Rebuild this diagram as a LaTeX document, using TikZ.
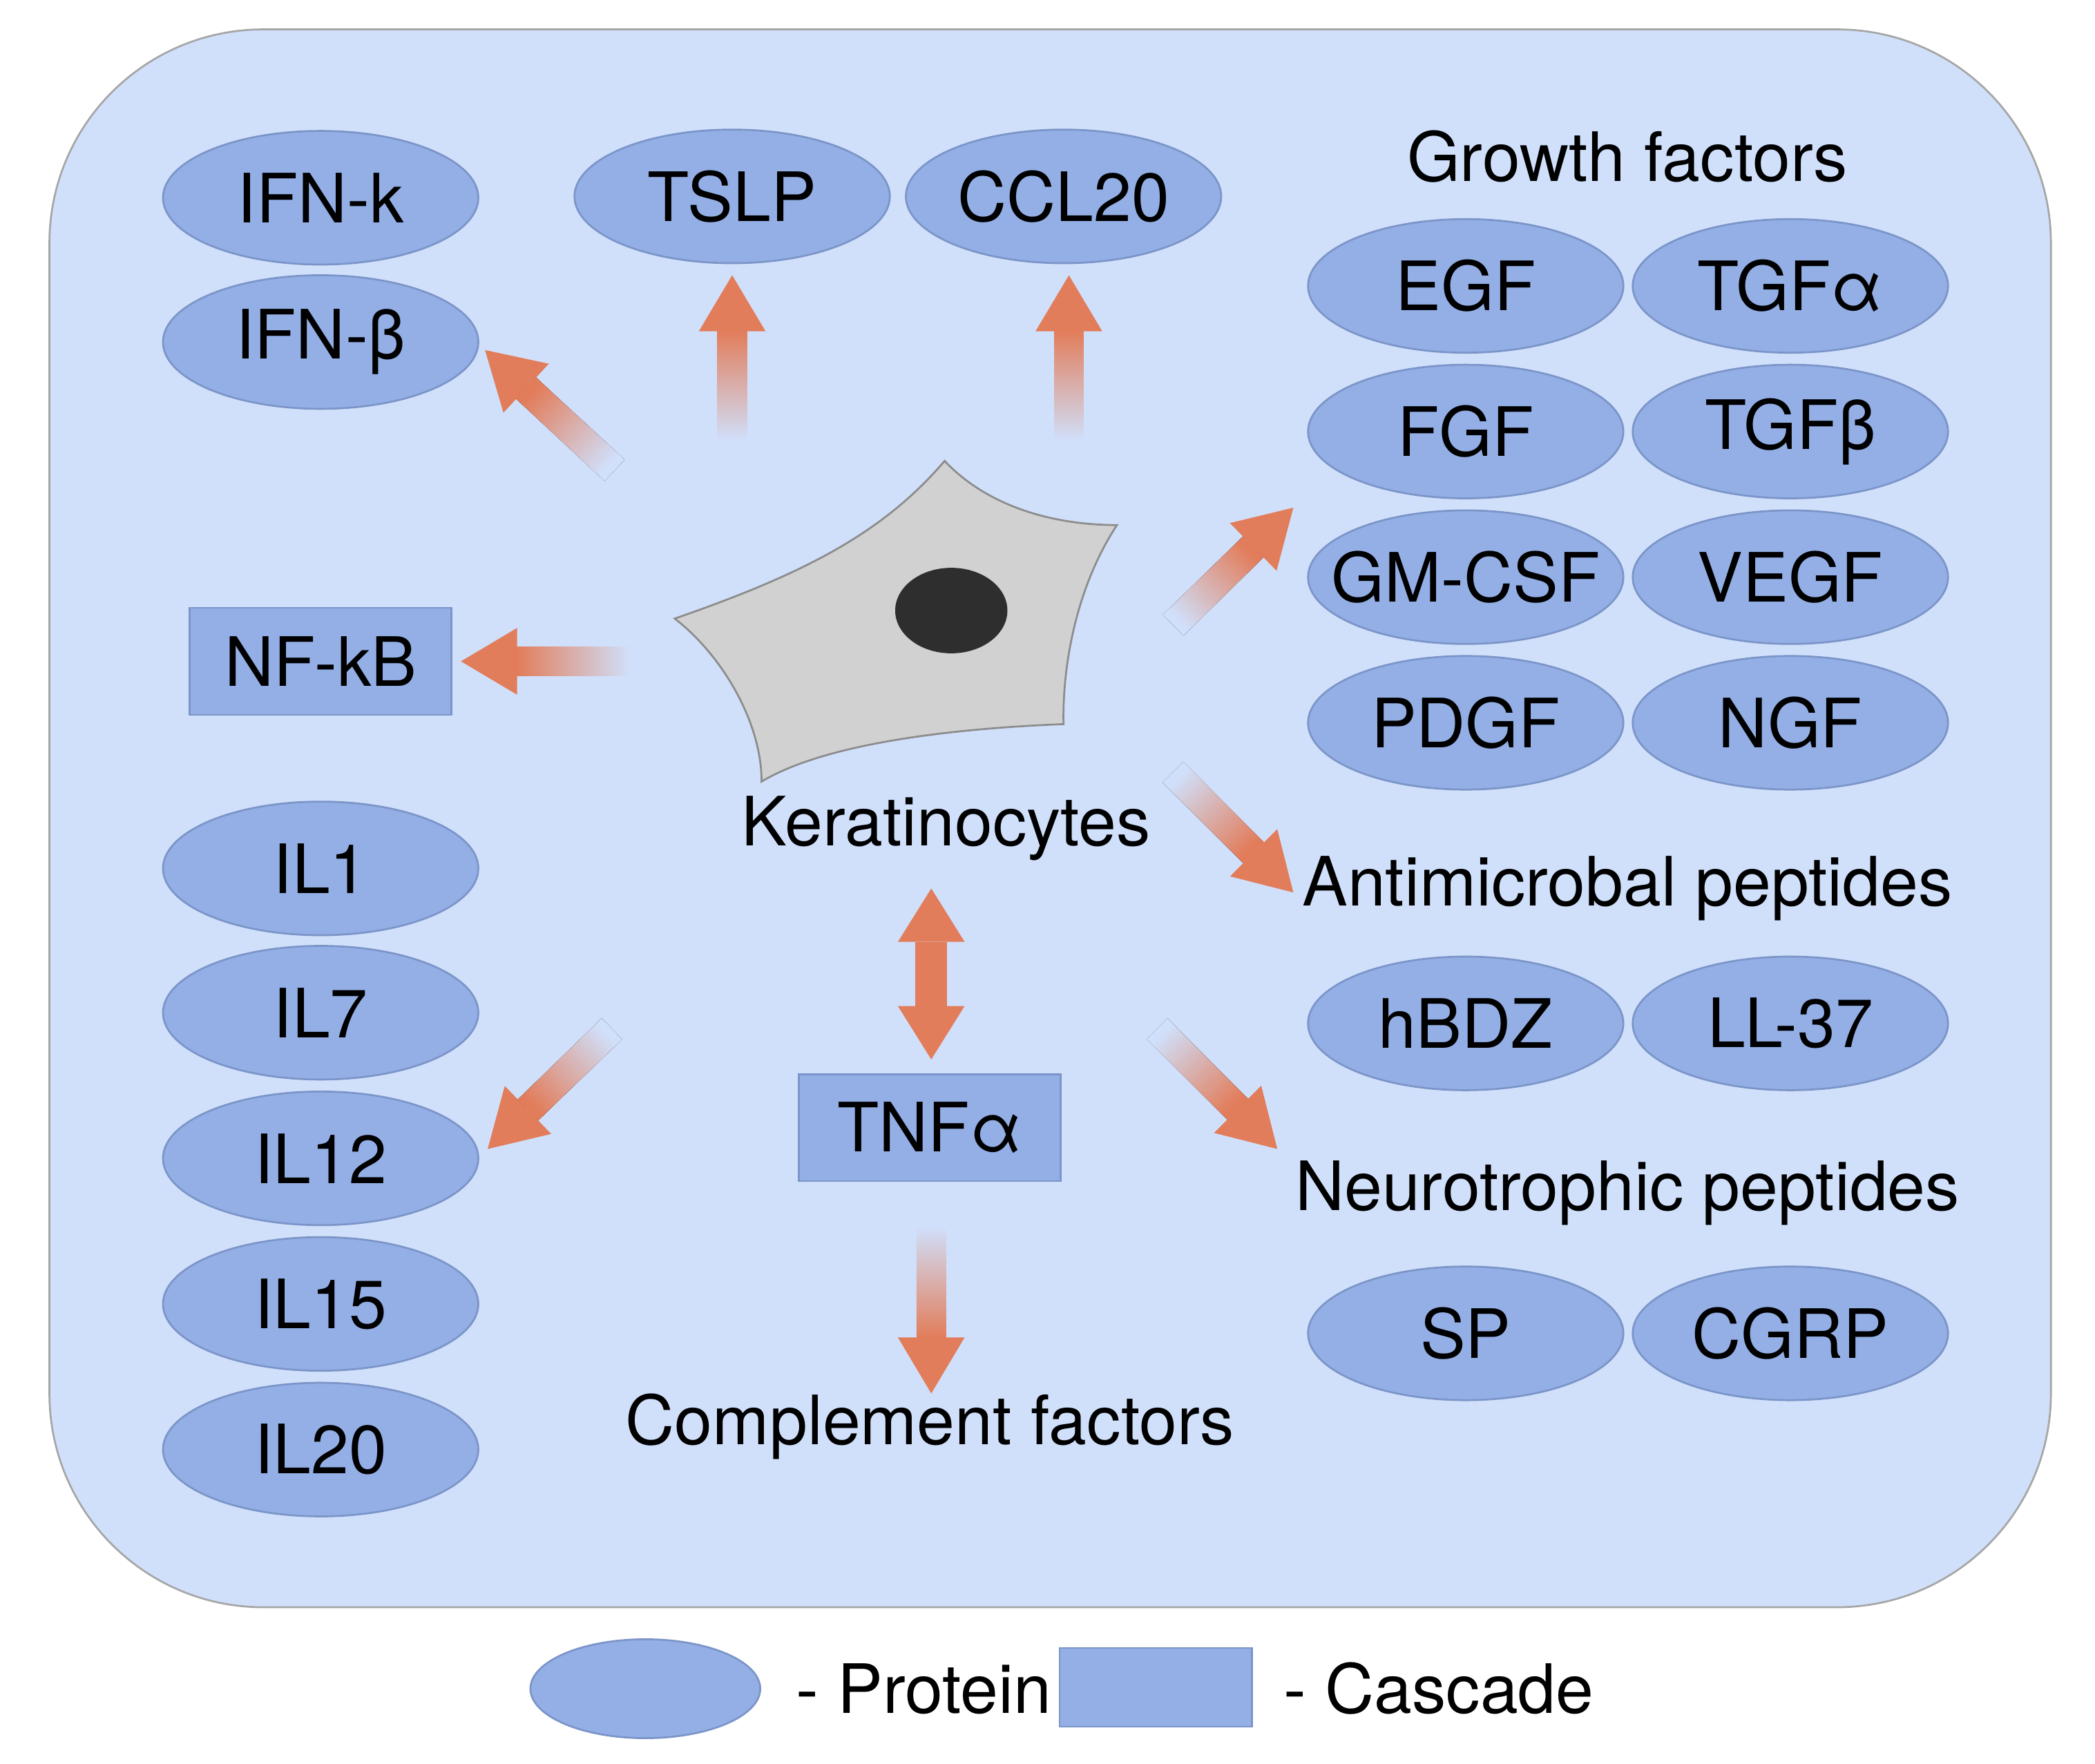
\documentclass[tikz,border=0pt]{standalone}
\usepackage{fontspec}
\setmainfont{TeX Gyre Heros}
\usetikzlibrary{calc,shapes.geometric}
\definecolor{bgc}{HTML}{D0E0FB}
\definecolor{prot}{HTML}{93AFE6}
\definecolor{protb}{HTML}{7C95C8}
\definecolor{arr}{HTML}{E27D5B}
\tikzset{
 prot/.style={ellipse,draw=protb,fill=prot,minimum width=2.36cm,minimum height=1.0cm,inner xsep=-1cm,inner ysep=-0.5cm,font=\fontsize{14.5}{17}\selectfont},
 casc/.style={rectangle,draw=protb,fill=prot,minimum width=1.96cm,minimum height=0.8cm,inner sep=0pt,font=\fontsize{14.5}{17}\selectfont},
 lab/.style={font=\fontsize{14.5}{17}\selectfont,inner sep=0pt}
}
\newcommand{\farrow}[3]{%
 \coordinate (hb) at ($(#2)!0.42cm!(#1)$);
 \fill[left color=bgc,right color=arr,shading angle={#3+90}]
   ($(#1)!0.11cm!90:(#2)$) -- ($(hb)!0.11cm!90:(#2)$) -- ($(hb)!0.11cm!-90:(#2)$) -- ($(#1)!0.11cm!-90:(#2)$) -- cycle;
 \fill[arr] ($(hb)!0.25cm!90:(#2)$) -- (#2) -- ($(hb)!0.25cm!-90:(#2)$) -- cycle;
}
\begin{document}
\begin{tikzpicture}[x=0.1mm,y=-0.1mm]
\useasboundingbox (0,0) rectangle (1568,1320);
\fill[white] (0,0) rectangle (1568,1320);
\draw[fill=bgc,draw=gray!70,rounded corners=1.6cm] (37,22) rectangle (1535,1203);
% proteins
\node[prot] (ifnk) at (240,148) {IFN-k};
\node[prot] (ifnb) at (240,256) {IFN-β};
\node[prot] (tslp) at (548,147) {TSLP};
\node[prot] (ccl) at (796,147) {CCL20};
\node[lab] (gf) at (1218,117) {Growth factors};
\node[prot] (egf) at (1097,214) {EGF};
\node[prot] (tgfa) at (1340,214) {TGFα};
\node[prot] (fgf) at (1097,323) {FGF};
\node[prot] (tgfb) at (1340,323) {TGFβ};
\node[prot] (gm) at (1097,432) {GM-CSF};
\node[prot] (vegf) at (1340,432) {VEGF};
\node[prot] (pdgf) at (1097,541) {PDGF};
\node[prot] (ngf) at (1340,541) {NGF};
\node[lab] (amp) at (1218,665) {Antimicrobal peptides};
\node[prot] (hbd) at (1097,766) {hBDZ};
\node[prot] (ll) at (1340,766) {LL-37};
\node[lab] (neu) at (1218,893) {Neurotrophic peptides};
\node[prot] (sp) at (1097,998) {SP};
\node[prot] (cgrp) at (1340,998) {CGRP};
\node[prot] (il1) at (240,650) {IL1};
\node[prot] (il7) at (240,758) {IL7};
\node[prot] (il12) at (240,867) {IL12};
\node[prot] (il15) at (240,976) {IL15};
\node[prot] (il20) at (240,1085) {IL20};
\node[casc] (nfkb) at (240,495) {NF-kB};
\node[casc] (tnf) at (696,844) {TNFα};
\node[lab] (ker) at (708,620) {Keratinocytes};
\node[lab] (comp) at (696,1068) {Complement factors};
% cell
\draw[fill=black!18,draw=black!45] (505,463) .. controls (600,430) and (660,400) .. (707,345)
  .. controls (740,380) and (790,393) .. (836,393)
  .. controls (805,440) and (795,500) .. (796,542)
  .. controls (720,545) and (620,555) .. (570,585)
  .. controls (570,540) and (540,490) .. (505,463) -- cycle;
\node[ellipse,fill=black!82,minimum width=0.84cm,minimum height=0.64cm,inner sep=0pt] (nuc) at (712,457) {};
% arrows
\coordinate (a1t) at (460,352); \coordinate (a1h) at (363,262);
\coordinate (a2t) at (548,330); \coordinate (a2h) at (548,206);
\coordinate (a3t) at (800,330); \coordinate (a3h) at (800,206);
\coordinate (a4t) at (472,495); \coordinate (a4h) at (345,495);
\coordinate (a5t) at (878,468); \coordinate (a5h) at (968,380);
\coordinate (a6t) at (878,578); \coordinate (a6h) at (968,668);
\coordinate (a7t) at (458,770); \coordinate (a7h) at (365,860);
\coordinate (a8t) at (866,770); \coordinate (a8h) at (956,860);
\coordinate (a9t) at (697,918); \coordinate (a9h) at (697,1043);
\farrow{a1t}{a1h}{137}
\farrow{a2t}{a2h}{90}
\farrow{a3t}{a3h}{90}
\farrow{a4t}{a4h}{180}
\farrow{a5t}{a5h}{44}
\farrow{a6t}{a6h}{-45}
\farrow{a7t}{a7h}{224}
\farrow{a8t}{a8h}{-45}
\farrow{a9t}{a9h}{-90}
\coordinate (d1) at (697,665); \coordinate (d2) at (697,793);
\fill[arr] (685,705) rectangle (709,753);
\fill[arr] (d1) -- (722,705) -- (672,705) -- cycle;
\fill[arr] (d2) -- (722,753) -- (672,753) -- cycle;
% legend
\node[ellipse,draw=protb,fill=prot,minimum width=1.72cm,minimum height=0.74cm,inner sep=0pt] (lp) at (483,1264) {};
\node[lab,anchor=west] (lpt) at (595,1264) {- Protein};
\node[rectangle,draw=protb,fill=prot,minimum width=1.44cm,minimum height=0.59cm,inner sep=0pt] (lc) at (865,1263) {};
\node[lab,anchor=west] (lct) at (960,1264) {- Cascade};
\end{tikzpicture}
\end{document}
